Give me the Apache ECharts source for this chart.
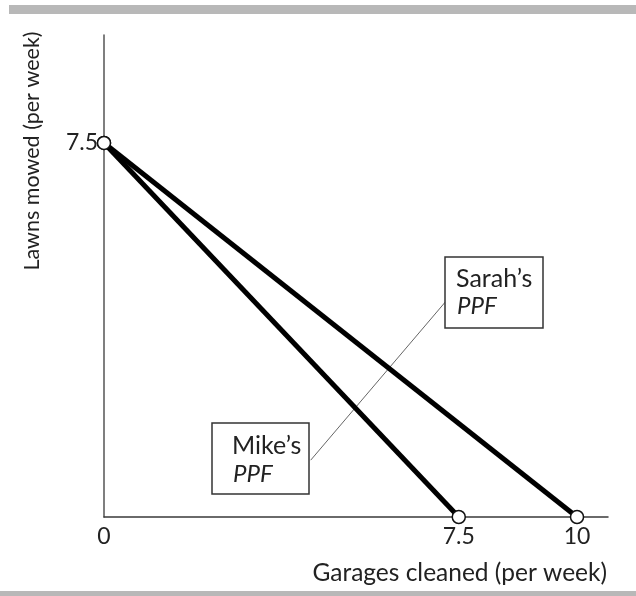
<!DOCTYPE html>
<html>
<head>
<meta charset="utf-8">
<script src="https://cdn.jsdelivr.net/npm/echarts@6/dist/echarts.min.js"></script>
<style>
  html, body { margin: 0; padding: 0; background: #fff; }
  #chart { width: 636px; height: 596px; }
</style>
</head>
<body>
<div id="chart"></div>
<script>
// Production possibilities frontiers (garages cleaned vs lawns mowed per week)
const mikePPF = [[0, 7.5], [7.5, 0]];
const sarahPPF = [[0, 7.5], [10, 0]];
const xTickValues = [0, 7.5, 10];
const yTickValues = [7.5];
const xTickLabels = ['0', '7.5', '10'];
const yTickLabels = ['7.5'];
// leader line joining the two PPF labels
const leader = [[4.37, 1.14], [7.25, 4.35]];

const FONT = 'Lato, "Noto Sans", sans-serif';
const chart = echarts.init(document.getElementById('chart'), null, { renderer: 'canvas' });

const gridLeft = 104, gridTop = 35, gridRight = 28, gridBottom = 79;

chart.setOption({
  animation: false,
  backgroundColor: '#fff',
  grid: { left: gridLeft, top: gridTop, right: gridRight, bottom: gridBottom },
  xAxis: {
    type: 'value', min: 0, max: 10.655,
    splitLine: { show: false },
    axisTick: { show: false },
    axisLine: { lineStyle: { color: '#3a3a3a', width: 1.5 } },
    axisLabel: {
      customValues: xTickValues,
      formatter: v => xTickLabels[xTickValues.indexOf(v)] ?? '',
      color: '#222', fontFamily: FONT, fontSize: 23, margin: 8
    }
  },
  yAxis: {
    type: 'value', min: 0, max: 9.665,
    splitLine: { show: false },
    axisTick: { show: false },
    axisLine: { lineStyle: { color: '#555', width: 1.5 } },
    axisLabel: {
      customValues: yTickValues,
      formatter: v => yTickLabels[yTickValues.indexOf(v)] ?? '',
      color: '#222', fontFamily: FONT, fontSize: 23, margin: 6
    }
  },
  series: [
    {
      name: 'Leader', type: 'line', data: leader, symbol: 'none', silent: true,
      lineStyle: { color: '#666', width: 1 }, z: 1
    },
    {
      name: 'Mike', type: 'line', data: mikePPF,
      symbol: 'circle', symbolSize: 13,
      itemStyle: { color: '#fff', borderColor: '#111', borderWidth: 1.5 },
      lineStyle: { color: '#000', width: 5 }, z: 3
    },
    {
      name: 'Sarah', type: 'line', data: sarahPPF,
      symbol: 'circle', symbolSize: 13,
      itemStyle: { color: '#fff', borderColor: '#111', borderWidth: 1.5 },
      lineStyle: { color: '#000', width: 5 }, z: 3
    }
  ],
  graphic: [
    { type: 'rect', shape: { x: 9, y: 5, width: 627, height: 9 }, style: { fill: '#b8b8b8' }, silent: true },
    { type: 'rect', shape: { x: 0, y: 591, width: 636, height: 5 }, style: { fill: '#b8b8b8' }, silent: true },
    {
      type: 'text', x: 607, y: 573,
      style: { text: 'Garages cleaned (per week)', font: '24.5px ' + FONT, fill: '#222', align: 'right', verticalAlign: 'middle' }
    },
    {
      type: 'text', x: 32, y: 151, rotation: Math.PI / 2,
      style: { text: 'Lawns mowed (per week)', font: '21.5px ' + FONT, fill: '#222', align: 'center', verticalAlign: 'middle' }
    },
    { type: 'rect', shape: { x: 212, y: 423, width: 97, height: 71 }, style: { fill: '#fff', stroke: '#333', lineWidth: 1.5 }, z: 10 },
    { type: 'text', x: 232, y: 446, z: 11, style: { text: 'Mike’s', font: '25px ' + FONT, fill: '#222', verticalAlign: 'middle' } },
    { type: 'text', x: 233, y: 474, z: 11, style: { text: 'PPF', font: 'italic 24px ' + FONT, fill: '#222', verticalAlign: 'middle' } },
    { type: 'rect', shape: { x: 445, y: 257, width: 98, height: 71 }, style: { fill: '#fff', stroke: '#333', lineWidth: 1.5 }, z: 10 },
    { type: 'text', x: 456, y: 279, z: 11, style: { text: 'Sarah’s', font: '25px ' + FONT, fill: '#222', verticalAlign: 'middle' } },
    { type: 'text', x: 457, y: 306, z: 11, style: { text: 'PPF', font: 'italic 24px ' + FONT, fill: '#222', verticalAlign: 'middle' } }
  ]
});
</script>
</body>
</html>
